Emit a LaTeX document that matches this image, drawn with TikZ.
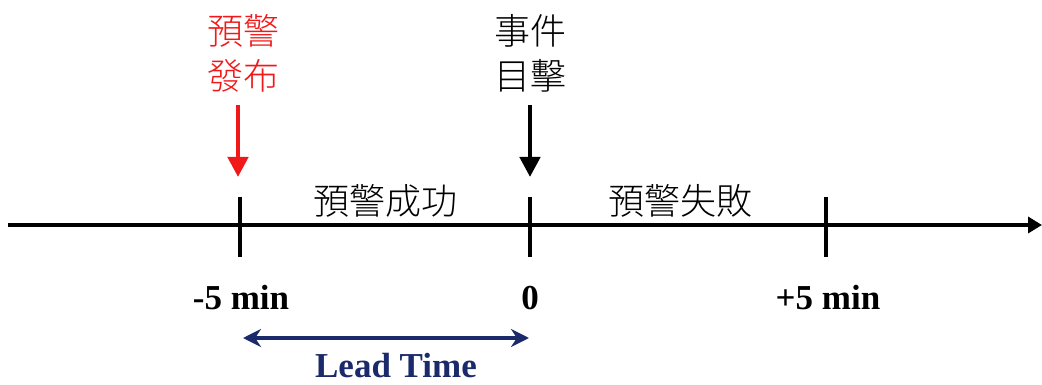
\documentclass[tikz,border=0pt]{standalone}
\usepackage{fontspec}
\setmainfont{Liberation Serif}
\newfontfamily\cjk{Noto Sans CJK TC Light}
\usetikzlibrary{arrows.meta}
\definecolor{navy}{HTML}{1B2A6B}
\definecolor{warnred}{HTML}{F01818}
\tikzset{
  x=1pt, y=-1pt,
  cjklabel/.style={font=\cjk\fontsize{36}{45}\selectfont, align=center, inner sep=0pt},
  numlabel/.style={font=\bfseries\fontsize{35}{40}\selectfont, inner sep=0pt},
  tickline/.style={line width=4.5pt},
  axisline/.style={line width=4.5pt, -{Triangle[width=16pt,length=14pt]}},
  downarrow/.style={line width=4.5pt, -{Triangle[width=20pt,length=20pt]}},
  leadarrow/.style={navy, line width=3.2pt, {Stealth[width=18pt,length=18pt]}-{Stealth[width=18pt,length=18pt]}}
}
\begin{document}
\begin{tikzpicture}
\useasboundingbox (0,0) rectangle (1042,385);
% axis
\coordinate (axL) at (8,225);
\coordinate (axR) at (1042,225);
\draw[axisline] (axL) -- (axR);
% ticks
\coordinate (t1a) at (240,197); \coordinate (t1b) at (240,257);
\coordinate (t2a) at (530,197); \coordinate (t2b) at (530,257);
\coordinate (t3a) at (826,197); \coordinate (t3b) at (826,257);
\draw[tickline] (t1a) -- (t1b);
\draw[tickline] (t2a) -- (t2b);
\draw[tickline] (t3a) -- (t3b);
% top labels
\node[cjklabel, text=warnred] (warn) at (243,53) {預警\\發布};
\node[cjklabel] (event) at (530,53) {事件\\目擊};
\coordinate (wa) at (238,105); \coordinate (wb) at (238,177);
\coordinate (ea) at (530,105); \coordinate (eb) at (530,177);
\draw[downarrow, warnred] (wa) -- (wb);
\draw[downarrow, black] (ea) -- (eb);
% segment labels
\node[cjklabel] (succ) at (385,201) {預警成功};
\node[cjklabel] (fail) at (680,201) {預警失敗};
% numbers
\node[numlabel] (m5) at (241,298) {-5 min};
\node[numlabel] (z0) at (530,298) {0};
\node[numlabel] (p5) at (828,298) {+5 min};
% lead time
\coordinate (la) at (243,338); \coordinate (lb) at (529,338);
\draw[leadarrow] (la) -- (lb);
\node[numlabel, text=navy] (lead) at (396,366) {Lead Time};
\end{tikzpicture}
\end{document}
